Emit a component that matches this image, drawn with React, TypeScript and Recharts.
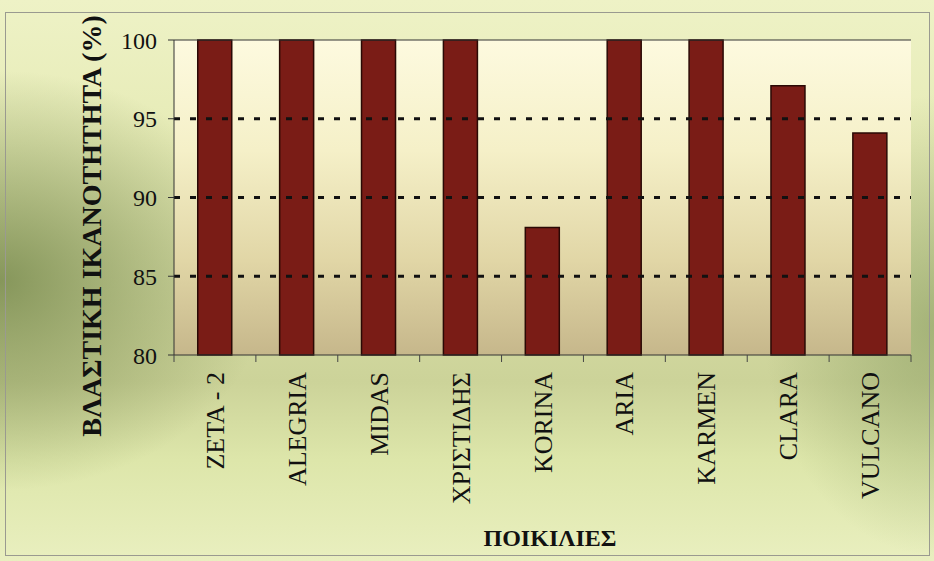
import { BarChart, Bar, XAxis, YAxis, CartesianGrid, ReferenceLine } from 'recharts'

const varieties = ['ZETA - 2', 'ALEGRIA', 'MIDAS', 'ΧΡΙΣΤΙΔΗΣ', 'KORINA', 'ARIA', 'KARMEN', 'CLARA', 'VULCANO']
const germination = [100, 100, 100, 100, 88.1, 100, 100, 97.1, 94.1]
const yTicks = [80, 85, 90, 95, 100]
const dashedLines = [85, 90, 95]

const data = varieties.map((name, i) => ({ name, value: germination[i] }))

const FONT = '"Liberation Serif", "Times New Roman", serif'

// rotated category label, plus tick marks on the category boundaries
const CategoryTick = (props: any) => {
  const { x, y, payload } = props
  const half = payload.offset ?? 0
  return (
    <g>
      <line x1={x - half} y1={y - 8} x2={x - half} y2={y - 1} stroke="#444" strokeWidth={1} />
      {payload.index === varieties.length - 1 && (
        <line x1={x + half} y1={y - 8} x2={x + half} y2={y - 1} stroke="#444" strokeWidth={1} />
      )}
      <text
        transform={`translate(${x + 9},${y + 9}) rotate(-90)`}
        textAnchor="end"
        fontFamily={FONT}
        fontSize={26}
        fill="#111"
      >
        {payload.value}
      </text>
    </g>
  )
}

const YTitle = () => (
  <text
    transform="translate(101,226) rotate(-90)"
    textAnchor="middle"
    fontFamily={FONT}
    fontSize={28}
    fontWeight="bold"
    fill="#111"
  >
    ΒΛΑΣΤΙΚΗ ΙΚΑΝΟΤΗΤΗΤΑ (%)
  </text>
)

const XTitle = () => (
  <text x={550} y={546} textAnchor="middle" fontFamily={FONT} fontSize={24} fontWeight="bold" fill="#111">
    ΠΟΙΚΙΛΙΕΣ
  </text>
)

export default function App() {
  return (
    <div
      style={{
        position: 'absolute',
        left: 0,
        top: 0,
        width: 934,
        height: 561,
        background:
          'radial-gradient(ellipse 270px 210px at 0% 50%, rgba(120,138,78,0.85), rgba(120,138,78,0) 100%), ' +
          'radial-gradient(ellipse 170px 230px at 100% 58%, rgba(135,155,95,0.6), rgba(135,155,95,0) 100%), ' +
          'linear-gradient(to bottom, #eef2c6 0%, #e6ebb6 25%, #d4daa2 55%, #ccd399 68%, #dde6aa 82%, #e9efbf 100%)',
      }}
    >
      <div
        style={{
          position: 'absolute',
          left: 5,
          top: 12,
          width: 923,
          height: 542,
          border: '1px solid #9a9a90',
        }}
      />
      <BarChart
        width={934}
        height={561}
        data={data}
        margin={{ top: 40, right: 23, bottom: 0, left: 0 }}
        barCategoryGap="29%"
      >
        <defs>
          <linearGradient id="plotFill" x1="0" y1="0" x2="0" y2="1">
            <stop offset="0%" stopColor="#fdfadf" />
            <stop offset="35%" stopColor="#f5f0c8" />
            <stop offset="70%" stopColor="#e1d6a6" />
            <stop offset="100%" stopColor="#c6b78b" />
          </linearGradient>
        </defs>
        <CartesianGrid fill="url(#plotFill)" horizontal={false} vertical={false} stroke="none" />
        {dashedLines.map((v) => (
          <ReferenceLine key={v} y={v} stroke="#111" strokeWidth={3} strokeDasharray="6 10" />
        ))}
        <ReferenceLine y={100} stroke="#333" strokeWidth={1} />
        <XAxis
          dataKey="name"
          height={206}
          interval={0}
          tickLine={false}
          axisLine={{ stroke: '#333', strokeWidth: 1 }}
          tick={<CategoryTick />}
          label={<XTitle />}
        />
        <YAxis
          width={174}
          domain={[80, 100]}
          ticks={yTicks}
          interval={0}
          tickSize={6}
          tickMargin={11}
          tickLine={{ stroke: '#333' }}
          axisLine={{ stroke: '#333', strokeWidth: 1 }}
          tick={{ fontFamily: FONT, fontSize: 24, fill: '#111' }}
          label={<YTitle />}
        />
        <Bar
          dataKey="value"
          fill="#7a1c16"
          stroke="#2a0905"
          strokeWidth={1.5}
          isAnimationActive={false}
        />
      </BarChart>
    </div>
  )
}
